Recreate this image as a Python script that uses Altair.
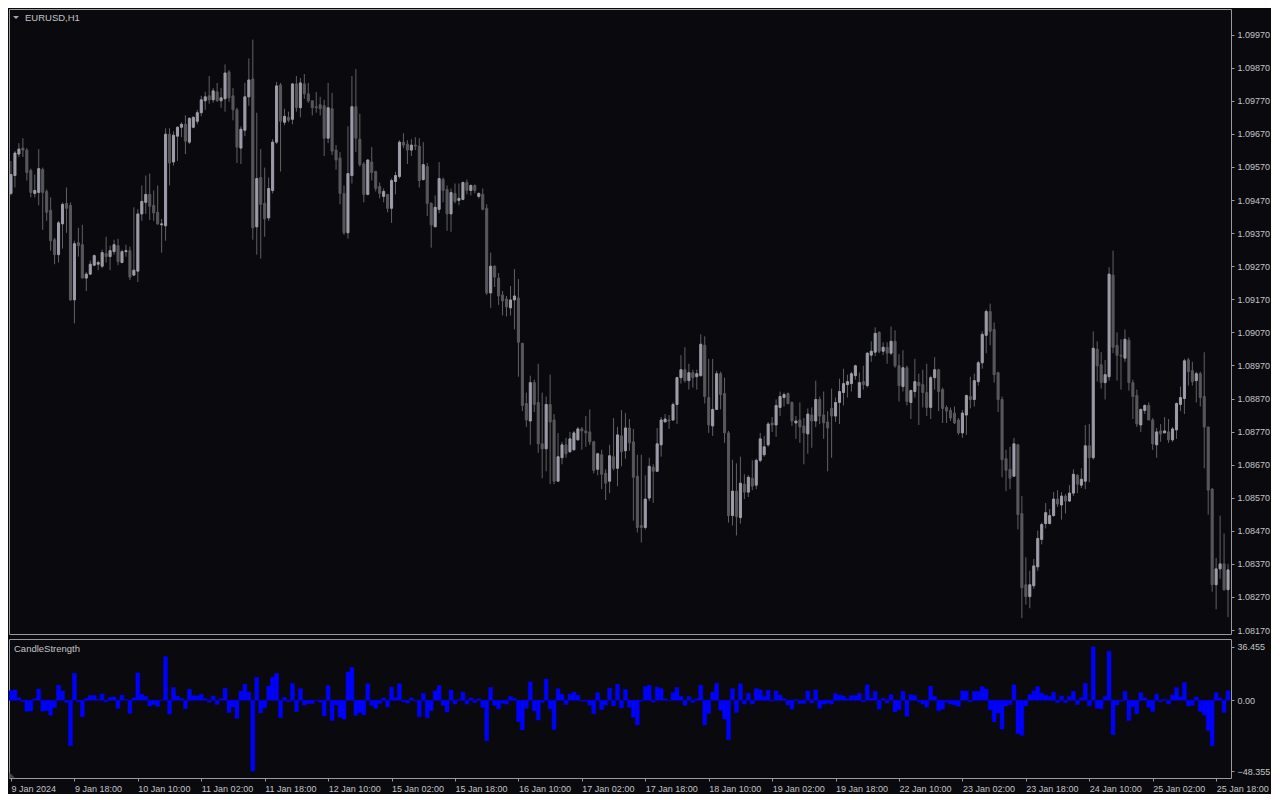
import altair as alt
import pandas as pd

BG = "#0a0a0e"
BORDER = "#9a9a9e"
TXT = "#c4c4c8"
BULL = "#9d9daa"
BEAR = "#58585c"
WICK = "#606065"
BLUE = "#0000ff"
FONT = "Liberation Sans"

OPEN = [
    1.09490, 1.09544, 1.09609, 1.09627, 1.09621, 1.09559, 1.09490, 1.09493, 1.09562, 1.09496, 1.09439, 1.09350, 1.09305, 1.09398, 1.09460, 1.09454,
    1.09168, 1.09341, 1.09335, 1.09234, 1.09246, 1.09273, 1.09276, 1.09270, 1.09308, 1.09299, 1.09314, 1.09332, 1.09281, 1.09314, 1.09317, 1.09243,
    1.09255, 1.09428, 1.09463, 1.09487, 1.09454, 1.09433, 1.09395, 1.09392, 1.09669, 1.09585, 1.09663, 1.09690, 1.09699, 1.09645, 1.09690, 1.09708,
    1.09734, 1.09770, 1.09785, 1.09773, 1.09797, 1.09770, 1.09776, 1.09857, 1.09785, 1.09743, 1.09627, 1.09681, 1.09782, 1.09836, 1.09389, 1.09538,
    1.09460, 1.09416, 1.09499, 1.09645, 1.09818, 1.09705, 1.09720, 1.09714, 1.09821, 1.09749, 1.09821, 1.09791, 1.09770, 1.09752, 1.09758, 1.09755,
    1.09657, 1.09746, 1.09621, 1.09597, 1.09490, 1.09371, 1.09544, 1.09752, 1.09654, 1.09579, 1.09487, 1.09585, 1.09556, 1.09511, 1.09481, 1.09487,
    1.09445, 1.09526, 1.09541, 1.09645, 1.09639, 1.09621, 1.09636, 1.09633, 1.09532, 1.09571, 1.09460, 1.09389, 1.09442, 1.09532, 1.09502, 1.09428,
    1.09490, 1.09469, 1.09472, 1.09523, 1.09499, 1.09514, 1.09481, 1.09487, 1.09445, 1.09189, 1.09270, 1.09234, 1.09183, 1.09171, 1.09144, 1.09168,
    1.09174, 1.09037, 1.08855, 1.08802, 1.08918, 1.08858, 1.08733, 1.08718, 1.08852, 1.08805, 1.08620, 1.08691, 1.08730, 1.08709, 1.08715, 1.08745,
    1.08778, 1.08772, 1.08769, 1.08739, 1.08656, 1.08700, 1.08644, 1.08620, 1.08694, 1.08659, 1.08757, 1.08712, 1.08781, 1.08739, 1.08635, 1.08486,
    1.08480, 1.08569, 1.08662, 1.08650, 1.08730, 1.08799, 1.08805, 1.08805, 1.08852, 1.08933, 1.08957, 1.08924, 1.08948, 1.08936, 1.08939, 1.09031,
    1.08873, 1.08787, 1.08837, 1.08945, 1.08885, 1.08766, 1.08516, 1.08590, 1.08510, 1.08611, 1.08587, 1.08629, 1.08608, 1.08683, 1.08700, 1.08730,
    1.08796, 1.08790, 1.08843, 1.08873, 1.08885, 1.08858, 1.08796, 1.08805, 1.08787, 1.08763, 1.08820, 1.08802, 1.08867, 1.08820, 1.08799, 1.08840,
    1.08817, 1.08858, 1.08888, 1.08912, 1.08915, 1.08939, 1.08873, 1.08921, 1.08909, 1.09001, 1.09010, 1.09070, 1.09013, 1.09025, 1.09007, 1.09043,
    1.08969, 1.08906, 1.08963, 1.08858, 1.08891, 1.08918, 1.08912, 1.08888, 1.08843, 1.08933, 1.08957, 1.08897, 1.08843, 1.08834, 1.08826, 1.08805,
    1.08766, 1.08820, 1.08876, 1.08867, 1.08921, 1.08978, 1.09061, 1.09133, 1.09079, 1.08948, 1.08867, 1.08688, 1.08656, 1.08635, 1.08730, 1.08522,
    1.08307, 1.08271, 1.08304, 1.08361, 1.08444, 1.08492, 1.08492, 1.08516, 1.08566, 1.08548, 1.08575, 1.08560, 1.08584, 1.08638, 1.08608, 1.08620,
    1.08727, 1.08691, 1.09019, 1.08972, 1.08918, 1.08936, 1.09243, 1.09031, 1.09001, 1.08992, 1.09046, 1.08918, 1.08879, 1.08790, 1.08834, 1.08849,
    1.08805, 1.08730, 1.08772, 1.08766, 1.08769, 1.08745, 1.08775, 1.08852, 1.08870, 1.08987, 1.08954, 1.08924, 1.08945, 1.08876, 1.08784, 1.08596,
    1.08307, 1.08355, 1.08370, 1.08292,
]

HIGH = [
    1.09588, 1.09618, 1.09642, 1.09657, 1.09627, 1.09565, 1.09547, 1.09624, 1.09568, 1.09502, 1.09478, 1.09356, 1.09407, 1.09463, 1.09508, 1.09463,
    1.09347, 1.09386, 1.09395, 1.09252, 1.09287, 1.09305, 1.09287, 1.09320, 1.09359, 1.09332, 1.09350, 1.09353, 1.09320, 1.09335, 1.09329, 1.09448,
    1.09442, 1.09514, 1.09544, 1.09550, 1.09499, 1.09514, 1.09413, 1.09687, 1.09687, 1.09678, 1.09693, 1.09705, 1.09726, 1.09720, 1.09723, 1.09743,
    1.09785, 1.09797, 1.09845, 1.09809, 1.09824, 1.09809, 1.09880, 1.09863, 1.09809, 1.09749, 1.09693, 1.09824, 1.09898, 1.09955, 1.09734, 1.09624,
    1.09568, 1.09538, 1.09654, 1.09827, 1.09824, 1.09746, 1.09737, 1.09824, 1.09845, 1.09839, 1.09851, 1.09824, 1.09770, 1.09797, 1.09782, 1.09773,
    1.09824, 1.09794, 1.09636, 1.09615, 1.09514, 1.09693, 1.09845, 1.09866, 1.09731, 1.09585, 1.09594, 1.09630, 1.09559, 1.09523, 1.09505, 1.09487,
    1.09535, 1.09556, 1.09651, 1.09672, 1.09651, 1.09654, 1.09660, 1.09657, 1.09645, 1.09582, 1.09463, 1.09484, 1.09585, 1.09538, 1.09514, 1.09505,
    1.09520, 1.09520, 1.09526, 1.09532, 1.09517, 1.09517, 1.09493, 1.09505, 1.09457, 1.09311, 1.09273, 1.09249, 1.09195, 1.09180, 1.09210, 1.09261,
    1.09231, 1.09037, 1.08888, 1.08939, 1.08927, 1.08975, 1.08888, 1.08876, 1.08942, 1.08823, 1.08766, 1.08739, 1.08751, 1.08769, 1.08772, 1.08784,
    1.08784, 1.08817, 1.08837, 1.08742, 1.08706, 1.08715, 1.08656, 1.08730, 1.08811, 1.08784, 1.08835, 1.08826, 1.08808, 1.08778, 1.08700, 1.08700,
    1.08638, 1.08691, 1.08671, 1.08781, 1.08814, 1.08823, 1.08820, 1.08858, 1.08936, 1.09001, 1.09025, 1.08975, 1.08957, 1.08957, 1.09064, 1.09058,
    1.08990, 1.08990, 1.08954, 1.08951, 1.08933, 1.08772, 1.08685, 1.08674, 1.08694, 1.08641, 1.08638, 1.08683, 1.08688, 1.08766, 1.08757, 1.08799,
    1.08814, 1.08867, 1.08891, 1.08888, 1.08888, 1.08861, 1.08817, 1.08858, 1.08811, 1.08840, 1.08843, 1.08924, 1.08876, 1.08891, 1.08832, 1.08900,
    1.08873, 1.08930, 1.08960, 1.08942, 1.08951, 1.08972, 1.08948, 1.08969, 1.09010, 1.09043, 1.09085, 1.09073, 1.09040, 1.09040, 1.09088, 1.09076,
    1.09004, 1.09016, 1.08969, 1.08897, 1.08990, 1.08945, 1.08957, 1.08975, 1.08939, 1.08995, 1.08960, 1.08903, 1.08849, 1.08843, 1.08846, 1.08811,
    1.08835, 1.08882, 1.08936, 1.08945, 1.08984, 1.09073, 1.09139, 1.09157, 1.09100, 1.08951, 1.08876, 1.08715, 1.08724, 1.08751, 1.08733, 1.08575,
    1.08390, 1.08349, 1.08385, 1.08471, 1.08495, 1.08554, 1.08536, 1.08587, 1.08593, 1.08587, 1.08581, 1.08608, 1.08656, 1.08641, 1.08659, 1.08790,
    1.08793, 1.09073, 1.09043, 1.09010, 1.08986, 1.09267, 1.09317, 1.09070, 1.09049, 1.09079, 1.09055, 1.08927, 1.08897, 1.08840, 1.08852, 1.08858,
    1.08811, 1.08781, 1.08793, 1.08814, 1.08808, 1.08784, 1.08858, 1.08906, 1.08990, 1.08993, 1.08981, 1.08951, 1.08951, 1.09010, 1.08784, 1.08599,
    1.08388, 1.08516, 1.08462, 1.08370,
]

LOW = [
    1.09484, 1.09508, 1.09600, 1.09600, 1.09529, 1.09478, 1.09478, 1.09454, 1.09380, 1.09407, 1.09317, 1.09276, 1.09281, 1.09323, 1.09371, 1.09165,
    1.09097, 1.09299, 1.09234, 1.09195, 1.09243, 1.09270, 1.09258, 1.09264, 1.09281, 1.09258, 1.09305, 1.09273, 1.09279, 1.09299, 1.09228, 1.09240,
    1.09222, 1.09407, 1.09428, 1.09410, 1.09407, 1.09395, 1.09311, 1.09347, 1.09514, 1.09574, 1.09588, 1.09660, 1.09609, 1.09639, 1.09687, 1.09699,
    1.09723, 1.09743, 1.09761, 1.09764, 1.09767, 1.09749, 1.09737, 1.09767, 1.09711, 1.09582, 1.09579, 1.09663, 1.09755, 1.09350, 1.09305, 1.09293,
    1.09359, 1.09407, 1.09490, 1.09639, 1.09556, 1.09696, 1.09705, 1.09699, 1.09737, 1.09720, 1.09776, 1.09764, 1.09726, 1.09734, 1.09726, 1.09603,
    1.09642, 1.09606, 1.09562, 1.09457, 1.09365, 1.09353, 1.09520, 1.09615, 1.09571, 1.09463, 1.09484, 1.09529, 1.09496, 1.09475, 1.09463, 1.09433,
    1.09401, 1.09487, 1.09535, 1.09627, 1.09579, 1.09603, 1.09621, 1.09508, 1.09529, 1.09422, 1.09326, 1.09389, 1.09430, 1.09463, 1.09377, 1.09374,
    1.09460, 1.09454, 1.09469, 1.09487, 1.09484, 1.09490, 1.09475, 1.09439, 1.09183, 1.09144, 1.09207, 1.09153, 1.09121, 1.09118, 1.09121, 1.09079,
    1.08936, 1.08832, 1.08784, 1.08730, 1.08829, 1.08706, 1.08629, 1.08650, 1.08611, 1.08611, 1.08620, 1.08671, 1.08691, 1.08706, 1.08712, 1.08742,
    1.08715, 1.08724, 1.08730, 1.08644, 1.08638, 1.08596, 1.08563, 1.08584, 1.08653, 1.08605, 1.08665, 1.08688, 1.08712, 1.08501, 1.08465, 1.08435,
    1.08474, 1.08560, 1.08554, 1.08650, 1.08694, 1.08799, 1.08778, 1.08802, 1.08793, 1.08915, 1.08918, 1.08897, 1.08903, 1.08897, 1.08936, 1.08855,
    1.08766, 1.08757, 1.08837, 1.08837, 1.08736, 1.08495, 1.08486, 1.08456, 1.08492, 1.08566, 1.08572, 1.08593, 1.08596, 1.08677, 1.08694, 1.08724,
    1.08769, 1.08754, 1.08817, 1.08846, 1.08852, 1.08787, 1.08748, 1.08736, 1.08671, 1.08703, 1.08721, 1.08784, 1.08793, 1.08748, 1.08650, 1.08691,
    1.08799, 1.08793, 1.08849, 1.08873, 1.08891, 1.08927, 1.08873, 1.08897, 1.08903, 1.08981, 1.08998, 1.09007, 1.09001, 1.08975, 1.09001, 1.08963,
    1.08861, 1.08891, 1.08849, 1.08808, 1.08873, 1.08790, 1.08843, 1.08817, 1.08808, 1.08897, 1.08832, 1.08796, 1.08796, 1.08802, 1.08793, 1.08760,
    1.08751, 1.08760, 1.08840, 1.08846, 1.08909, 1.08960, 1.09007, 1.09031, 1.08918, 1.08829, 1.08632, 1.08590, 1.08596, 1.08635, 1.08474, 1.08206,
    1.08247, 1.08236, 1.08295, 1.08349, 1.08429, 1.08477, 1.08489, 1.08513, 1.08542, 1.08504, 1.08522, 1.08557, 1.08575, 1.08584, 1.08599, 1.08596,
    1.08617, 1.08685, 1.08921, 1.08900, 1.08867, 1.08924, 1.09007, 1.08924, 1.08897, 1.08981, 1.08894, 1.08808, 1.08784, 1.08769, 1.08823, 1.08805,
    1.08715, 1.08691, 1.08739, 1.08766, 1.08736, 1.08739, 1.08748, 1.08832, 1.08823, 1.08909, 1.08909, 1.08858, 1.08846, 1.08659, 1.08519, 1.08286,
    1.08233, 1.08325, 1.08289, 1.08209,
]

CLOSE = [
    1.09547, 1.09612, 1.09624, 1.09621, 1.09553, 1.09493, 1.09499, 1.09565, 1.09493, 1.09433, 1.09347, 1.09305, 1.09401, 1.09457, 1.09445, 1.09168,
    1.09338, 1.09332, 1.09234, 1.09246, 1.09276, 1.09302, 1.09281, 1.09311, 1.09299, 1.09317, 1.09335, 1.09284, 1.09314, 1.09317, 1.09237, 1.09258,
    1.09428, 1.09466, 1.09487, 1.09451, 1.09431, 1.09398, 1.09398, 1.09669, 1.09582, 1.09666, 1.09690, 1.09699, 1.09648, 1.09717, 1.09720, 1.09734,
    1.09773, 1.09782, 1.09773, 1.09800, 1.09770, 1.09779, 1.09854, 1.09779, 1.09743, 1.09630, 1.09684, 1.09782, 1.09833, 1.09386, 1.09535, 1.09457,
    1.09413, 1.09505, 1.09645, 1.09815, 1.09708, 1.09723, 1.09711, 1.09821, 1.09749, 1.09824, 1.09791, 1.09770, 1.09749, 1.09749, 1.09746, 1.09657,
    1.09749, 1.09618, 1.09591, 1.09490, 1.09371, 1.09550, 1.09752, 1.09657, 1.09577, 1.09487, 1.09591, 1.09553, 1.09505, 1.09490, 1.09496, 1.09445,
    1.09529, 1.09544, 1.09645, 1.09636, 1.09621, 1.09636, 1.09633, 1.09529, 1.09577, 1.09460, 1.09395, 1.09448, 1.09535, 1.09499, 1.09428, 1.09493,
    1.09466, 1.09475, 1.09523, 1.09499, 1.09514, 1.09499, 1.09490, 1.09442, 1.09189, 1.09270, 1.09237, 1.09180, 1.09165, 1.09147, 1.09168, 1.09180,
    1.09040, 1.08849, 1.08805, 1.08918, 1.08852, 1.08733, 1.08718, 1.08852, 1.08799, 1.08620, 1.08694, 1.08730, 1.08703, 1.08748, 1.08766, 1.08778,
    1.08772, 1.08766, 1.08739, 1.08653, 1.08703, 1.08641, 1.08614, 1.08697, 1.08659, 1.08760, 1.08709, 1.08781, 1.08736, 1.08632, 1.08480, 1.08480,
    1.08566, 1.08665, 1.08650, 1.08733, 1.08805, 1.08808, 1.08802, 1.08852, 1.08933, 1.08957, 1.08924, 1.08948, 1.08933, 1.08945, 1.09034, 1.08876,
    1.08790, 1.08837, 1.08945, 1.08882, 1.08766, 1.08516, 1.08590, 1.08513, 1.08614, 1.08587, 1.08632, 1.08605, 1.08683, 1.08748, 1.08724, 1.08793,
    1.08790, 1.08849, 1.08876, 1.08882, 1.08855, 1.08802, 1.08802, 1.08784, 1.08766, 1.08823, 1.08802, 1.08867, 1.08817, 1.08796, 1.08781, 1.08817,
    1.08858, 1.08891, 1.08915, 1.08921, 1.08945, 1.08969, 1.08918, 1.08912, 1.09007, 1.09013, 1.09067, 1.09013, 1.09025, 1.09007, 1.09043, 1.08969,
    1.08909, 1.08963, 1.08861, 1.08894, 1.08921, 1.08909, 1.08888, 1.08843, 1.08933, 1.08957, 1.08891, 1.08840, 1.08832, 1.08811, 1.08796, 1.08766,
    1.08826, 1.08879, 1.08867, 1.08924, 1.08978, 1.09064, 1.09133, 1.09073, 1.08942, 1.08867, 1.08685, 1.08653, 1.08629, 1.08733, 1.08519, 1.08298,
    1.08271, 1.08307, 1.08364, 1.08447, 1.08489, 1.08525, 1.08516, 1.08566, 1.08551, 1.08575, 1.08560, 1.08584, 1.08641, 1.08611, 1.08626, 1.08727,
    1.08691, 1.09022, 1.08969, 1.08918, 1.08942, 1.09246, 1.09025, 1.09001, 1.08998, 1.09049, 1.08918, 1.08876, 1.08793, 1.08837, 1.08849, 1.08805,
    1.08733, 1.08769, 1.08763, 1.08772, 1.08745, 1.08778, 1.08855, 1.08873, 1.08984, 1.08951, 1.08921, 1.08945, 1.08873, 1.08784, 1.08593, 1.08307,
    1.08355, 1.08370, 1.08292, 1.08352,
]

STRENGTH = [
    6.5, 7.0, 1.7, -0.8, -7.5, -7.3, 1.0, 7.7, -7.5, -7.0, -10.2, -5.0, 10.3, 6.3, -1.5, -31.0,
    18.5, -1.0, -11.2, 1.3, 3.2, 3.3, 0.6, 4.4, -1.0, 1.9, 2.3, -5.5, 3.5, 0.5, -9.0, 1.6,
    18.7, 4.1, 2.6, -3.9, -3.0, -4.2, 0.3, 29.8, -9.5, 8.7, 2.9, 1.2, -5.7, 7.6, 3.2, 2.9,
    4.1, 1.1, -1.3, 2.9, -2.9, 1.0, 8.3, -8.4, -4.5, -12.3, 6.1, 11.0, 5.5, -48.355, 15.7, -8.7,
    -5.2, 9.7, 15.8, 18.4, -11.9, 1.9, -1.0, 11.6, -7.7, 8.0, -3.2, -2.2, -2.2, -0.3, -1.3, -10.6,
    10.0, -13.8, -3.2, -11.6, -12.9, 19.3, 22.5, -10.3, -8.4, -10.0, 11.3, -3.5, -5.5, -2.3, 1.6, -4.5,
    9.0, 1.9, 11.3, -1.0, -1.9, 1.6, -0.3, -11.3, 4.8, -11.9, -7.1, 6.4, 10.0, -3.5, -8.0, 7.1,
    -2.6, 0.6, 5.5, -2.6, 1.6, -1.6, 1.0, -4.8, -27.7, 8.7, -3.5, -5.8, -1.9, -2.6, 2.6, 1.3,
    -14.5, -20.3, -5.5, 12.6, -7.1, -13.5, -1.6, 14.5, -5.8, -20.0, 8.0, 4.2, -2.9, 4.2, 5.5, 3.5,
    -0.6, -0.6, -3.2, -9.3, 5.2, -6.4, -3.2, 8.4, -3.9, 11.0, -5.2, 7.4, -4.8, -11.6, -16.8, -0.6,
    9.3, 10.3, -1.3, 9.0, 8.0, 1.0, -0.3, 5.2, 8.7, 2.6, -3.5, 2.6, -1.6, 1.0, 10.3, -16.8,
    -9.0, 5.5, 11.6, -6.8, -12.9, -27.0, 8.0, -8.4, 11.3, -2.6, 4.8, -2.6, 8.0, 7.1, 2.6, 6.8,
    -0.6, 6.4, 3.5, 1.0, -3.2, -6.1, 0.6, -2.3, -2.3, 6.4, -1.9, 7.1, -5.5, -2.6, -1.9, -2.6,
    4.5, 3.5, 2.9, 1.0, 3.2, 3.2, 4.8, -1.0, 10.6, 1.3, 6.1, -6.1, 1.3, -1.9, 3.9, -8.0,
    -6.4, 6.1, -11.0, 3.9, 3.2, -1.0, -2.6, -4.8, 9.7, 2.6, -7.1, -6.1, -1.3, -2.6, -3.2, -4.2,
    6.4, 6.4, -1.0, 6.1, 6.1, 9.3, 7.7, -6.4, -14.8, -8.7, -19.6, -3.9, -2.9, 10.6, -22.9, -24.0,
    -3.9, 3.9, 6.4, 9.3, 4.8, 3.5, 2.6, 5.5, -1.6, 2.9, -1.6, 2.6, 6.1, -2.9, 1.9, 11.6,
    -3.9, 36.455, -5.5, -5.8, 2.6, 33.5, -23.5, -3.2, -0.6, 6.1, -13.8, -4.5, -9.3, 5.2, 1.6, -4.8,
    -7.7, 4.2, -1.0, 0.6, -2.6, 3.5, 8.7, 2.3, 12.2, -3.9, -3.5, 2.3, -7.7, -10.0, -20.6, -31.2,
    5.2, 1.6, -8.4, 6.4,
]

X_LABELS = [
    "9 Jan 2024", "9 Jan 18:00", "10 Jan 10:00", "11 Jan 02:00", "11 Jan 18:00",
    "12 Jan 10:00", "15 Jan 02:00", "15 Jan 18:00", "16 Jan 10:00", "17 Jan 02:00",
    "17 Jan 18:00", "18 Jan 10:00", "19 Jan 02:00", "19 Jan 18:00", "22 Jan 10:00",
    "23 Jan 02:00", "23 Jan 18:00", "24 Jan 10:00", "25 Jan 02:00", "25 Jan 18:00",
]
X_TICK_BARS = [0, 16, 32, 48, 64, 80, 96, 112, 128, 144, 160, 176, 192, 208, 224, 240, 256, 272, 288, 304]
PRICE_TICKS = [
    1.08170, 1.08270, 1.08370, 1.08470, 1.08570, 1.08670, 1.08770, 1.08870, 1.08970, 1.09070,
    1.09170, 1.09270, 1.09370, 1.09470, 1.09570, 1.09670, 1.09770, 1.09870, 1.09970,
]
IND_TICKS = [-48.355, 0.0, 36.455]
SYMBOL = "EURUSD,H1"
IND_NAME = "CandleStrength"

n = len(OPEN)
df = pd.DataFrame({
    "i": list(range(n)), "o": OPEN, "h": HIGH, "l": LOW, "c": CLOSE, "v": STRENGTH,
})

W = 1222
H_MAIN = 625
H_IND = 139

xscale = alt.Scale(domain=[-0.5, 307.75], nice=False, zero=False)
yscale = alt.Scale(domain=[1.081581, 1.100475], nice=False, zero=False)
iscale = alt.Scale(domain=[-53.07, 41.84], nice=False, zero=False)

base = alt.Chart(df)

price_axis = alt.Axis(orient="right", values=PRICE_TICKS, format=".5f",
                      tickSize=3, labelPadding=3, labelOverlap=False,
                      labelSeparation=0, tickCount=19)

wick = base.mark_rule(strokeWidth=1, color=WICK, clip=True).encode(
    x=alt.X("i:Q", scale=xscale, axis=None),
    y=alt.Y("l:Q", scale=yscale, title=None, axis=price_axis),
    y2="h:Q",
)

is_bull = "datum.c >= datum.o"
body = base.transform_calculate(
    xa="datum.i - 0.26", xb="datum.i + 0.26"
).mark_bar(strokeWidth=1, clip=True).encode(
    x=alt.X("xa:Q", scale=xscale, axis=None),
    x2="xb:Q",
    y=alt.Y("o:Q", scale=yscale, title=None, axis=price_axis),
    y2="c:Q",
    fill=alt.condition(is_bull, alt.value(BULL), alt.value(BEAR)),
    stroke=alt.condition(is_bull, alt.value(BULL), alt.value(BEAR)),
)

lab_df = pd.DataFrame({"t": [SYMBOL]})
sym_text = alt.Chart(lab_df).mark_text(
    align="left", baseline="middle", color=TXT, font=FONT, fontSize=9.5
).encode(x=alt.value(16), y=alt.value(8.5), text="t:N")
sym_tri = alt.Chart(lab_df).mark_point(
    shape="M-1,-0.5L1,-0.5L0,0.5Z", filled=True, size=36, color="#a8a8ac", opacity=1
).encode(x=alt.value(7), y=alt.value(8.5))

main = alt.layer(wick, body, sym_tri, sym_text).properties(width=W, height=H_MAIN)

x_expr = "[" + ",".join("'" + s + "'" for s in X_LABELS) + "][round(datum.value / 16)]"

hist = base.transform_calculate(
    xa="datum.i - 0.5", xb="datum.i + 0.5", z="0"
).mark_bar(color=BLUE, stroke=BLUE, strokeWidth=0.4, clip=True).encode(
    x=alt.X("xa:Q", scale=xscale, title=None,
            axis=alt.Axis(values=X_TICK_BARS, labelExpr=x_expr, labelAlign="left",
                          labelBaseline="top", labelFlush=False, labelOverlap=False,
                          tickSize=3, labelPadding=3)),
    x2="xb:Q",
    y=alt.Y("v:Q", scale=iscale, title=None,
            axis=alt.Axis(orient="right", values=IND_TICKS, tickSize=3, labelPadding=3,
                          labelOverlap=False,
                          labelExpr="datum.value == 0 ? '0.00' : format(datum.value, '.3f')")),
    y2="z:Q",
)

ind_df = pd.DataFrame({"t": [IND_NAME]})
ind_text = alt.Chart(ind_df).mark_text(
    align="left", baseline="middle", color=TXT, font=FONT, fontSize=9.5
).encode(x=alt.value(5), y=alt.value(10), text="t:N")
corner = alt.Chart(ind_df).mark_point(
    shape="M-1,1L1,1L-1,-1Z", filled=True, size=30, color="#4a4a50", opacity=1
).encode(x=alt.value(3), y=alt.value(H_IND - 3))

ind = alt.layer(hist, ind_text, corner).properties(width=W, height=H_IND)

chart = alt.vconcat(main, ind, spacing=2).configure(
    background=BG, padding=0
).configure_view(
    stroke=BORDER, strokeWidth=1, fill=BG
).configure_axis(
    labelFont=FONT, labelFontSize=9, labelColor=TXT, tickColor=BORDER,
    domain=False, grid=False, labelOverlap=False,
)

chart.save("out.html", embed_options={"renderer": "svg", "actions": False})
